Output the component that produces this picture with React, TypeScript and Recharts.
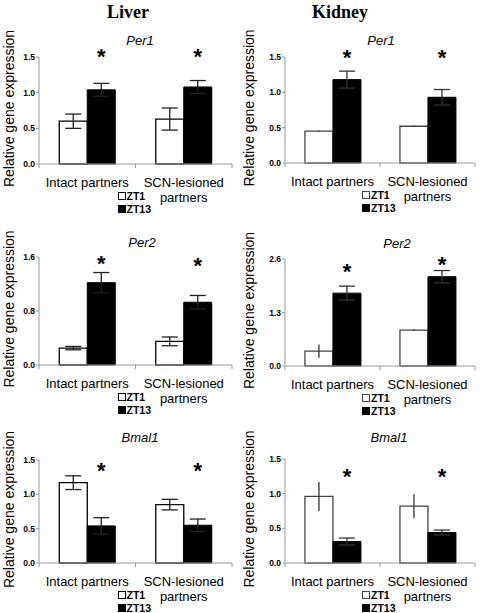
import { BarChart, Bar, XAxis, YAxis, ErrorBar, Legend, Label, Text } from 'recharts';

// categories and series
const CATEGORIES = ['Intact partners', 'SCN-lesioned partners'];
const SERIES = ['ZT1', 'ZT13'];

// Liver, mean and SEM
const LIVER_PER1_ZT1 = [0.6, 0.63];
const LIVER_PER1_ZT1_ERR = [0.1, 0.155];
const LIVER_PER1_ZT13 = [1.04, 1.08];
const LIVER_PER1_ZT13_ERR = [0.09, 0.09];

const LIVER_PER2_ZT1 = [0.25, 0.35];
const LIVER_PER2_ZT1_ERR = [0.025, 0.065];
const LIVER_PER2_ZT13 = [1.22, 0.93];
const LIVER_PER2_ZT13_ERR = [0.15, 0.1];

const LIVER_BMAL1_ZT1 = [1.17, 0.85];
const LIVER_BMAL1_ZT1_ERR = [0.1, 0.077];
const LIVER_BMAL1_ZT13 = [0.54, 0.55];
const LIVER_BMAL1_ZT13_ERR = [0.12, 0.09];

// Kidney
const KIDNEY_PER1_ZT1 = [0.45, 0.52];
const KIDNEY_PER1_ZT1_ERR = [0.01, 0.01];
const KIDNEY_PER1_ZT13 = [1.18, 0.93];
const KIDNEY_PER1_ZT13_ERR = [0.12, 0.11];

const KIDNEY_PER2_ZT1 = [0.36, 0.87];
const KIDNEY_PER2_ZT1_ERR = [0.16, 0.02];
const KIDNEY_PER2_ZT13 = [1.77, 2.17];
const KIDNEY_PER2_ZT13_ERR = [0.17, 0.15];

const KIDNEY_BMAL1_ZT1 = [0.96, 0.82];
const KIDNEY_BMAL1_ZT1_ERR = [0.21, 0.17];
const KIDNEY_BMAL1_ZT13 = [0.31, 0.44];
const KIDNEY_BMAL1_ZT13_ERR = [0.05, 0.035];

// y ticks
const TICKS_15 = [0, 0.5, 1.0, 1.5];
const TICKS_LIVER_PER2 = [0, 0.8, 1.6];
const TICKS_KIDNEY_PER2 = [0, 1.3, 2.6];

const SANS = '"Liberation Sans", Arial, Helvetica, sans-serif';
const SERIF = '"Liberation Serif", "Times New Roman", serif';
const AXIS = '#9a9a9a';

// layout of the six panels (pixel positions, not data)
const COLS = [
  { x: 0, plotLeft: 39, plotRight: 232, bar: '#000', err: '#222', zt1Cap: 8 },
  { x: 240, plotLeft: 285, plotRight: 475, bar: '#444', err: '#333', zt1Cap: 0 },
];

const PANELS = [
  { col: 0, gene: 'Per1', zt1: LIVER_PER1_ZT1, zt1Err: LIVER_PER1_ZT1_ERR, zt13: LIVER_PER1_ZT13, zt13Err: LIVER_PER1_ZT13_ERR, ticks: TICKS_15, top: 57, bottom: 164, titleX: 140, titleY: 40, star: [-5, -5] },
  { col: 1, gene: 'Per1', zt1: KIDNEY_PER1_ZT1, zt1Err: KIDNEY_PER1_ZT1_ERR, zt13: KIDNEY_PER1_ZT13, zt13Err: KIDNEY_PER1_ZT13_ERR, ticks: TICKS_15, top: 57, bottom: 163, titleX: 381, titleY: 40, star: [-4, -4] },
  { col: 0, gene: 'Per2', zt1: LIVER_PER2_ZT1, zt1Err: LIVER_PER2_ZT1_ERR, zt13: LIVER_PER2_ZT13, zt13Err: LIVER_PER2_ZT13_ERR, ticks: TICKS_LIVER_PER2, top: 257, bottom: 365, titleX: 142, titleY: 242, star: [2, 4] },
  { col: 1, gene: 'Per2', zt1: KIDNEY_PER2_ZT1, zt1Err: KIDNEY_PER2_ZT1_ERR, zt13: KIDNEY_PER2_ZT13, zt13Err: KIDNEY_PER2_ZT13_ERR, ticks: TICKS_KIDNEY_PER2, top: 259, bottom: 366, titleX: 397, titleY: 243, star: [8, 1] },
  { col: 0, gene: 'Bmal1', zt1: LIVER_BMAL1_ZT1, zt1Err: LIVER_BMAL1_ZT1_ERR, zt13: LIVER_BMAL1_ZT13, zt13Err: LIVER_BMAL1_ZT13_ERR, ticks: TICKS_15, top: 460, bottom: 563, titleX: 140, titleY: 437, star: [6, 6] },
  { col: 1, gene: 'Bmal1', zt1: KIDNEY_BMAL1_ZT1, zt1Err: KIDNEY_BMAL1_ZT1_ERR, zt13: KIDNEY_BMAL1_ZT13, zt13Err: KIDNEY_BMAL1_ZT13_ERR, ticks: TICKS_15, top: 459, bottom: 563, titleX: 389, titleY: 437, star: [13, 13] },
];

const TOP = 40;
const XAXIS_H = 55;

function LegendBox({ barStroke }: { barStroke: string }) {
  return (
    <div style={{ fontFamily: SANS, fontSize: 10.5, fontWeight: 'bold', lineHeight: '13px' }}>
      {SERIES.map((name, i) => (
        <div key={name} style={{ display: 'flex', alignItems: 'center', height: 13 }}>
          <span
            style={{
              display: 'inline-block',
              width: 6,
              height: 6,
              border: `1px solid ${i === 0 ? barStroke : '#000'}`,
              background: i === 0 ? '#fff' : '#000',
              marginRight: 1,
            }}
          />
          <span>{name}</span>
        </div>
      ))}
    </div>
  );
}

function Panel({ p }: { p: any }) {
  const c = COLS[p.col];
  const H = p.bottom - p.top;
  const band = (c.plotRight - c.plotLeft) / CATEGORIES.length;
  const data = CATEGORIES.map((cat, i) => ({
    cat,
    zt1: p.zt1[i],
    zt1Err: p.zt1Err[i],
    zt13: p.zt13[i],
    zt13Err: p.zt13Err[i],
  }));

  const CatTick = (props: any) => {
    const { x, y, payload, index } = props;
    const marks = index === 0 ? [x - band / 2, x + band / 2] : [x + band / 2];
    return (
      <g>
        {marks.map((mx) => (
          <line key={mx} x1={mx} x2={mx} y1={y} y2={y + 4} stroke={AXIS} />
        ))}
        <Text
          x={x}
          y={y + 13.3}
          width={band + 14}
          textAnchor="middle"
          verticalAnchor="start"
          lineHeight={15.5}
          fill="#000"
          style={{ fontSize: 13, fontFamily: SANS }}
        >
          {payload.value}
        </Text>
      </g>
    );
  };

  const Star = (lp: any) => {
    const vb = lp.viewBox || lp;
    const cx = vb.x + vb.width / 2;
    return (
      <text x={cx} y={TOP + p.star[lp.index] + 12} textAnchor="middle" fontFamily={SANS} fontWeight="bold" fontSize={22} fill="#000">
        *
      </text>
    );
  };

  return (
    <div style={{ position: 'absolute', left: c.x, top: p.top - TOP }}>
      <BarChart
        width={240}
        height={TOP + H + XAXIS_H}
        data={data}
        margin={{ top: TOP, right: c.x + 240 - c.plotRight, left: 0, bottom: 0 }}
        barCategoryGap="21%"
        barGap={0}
      >
        <XAxis
          dataKey="cat"
          height={XAXIS_H}
          interval={0}
          tickLine={false}
          tickSize={0}
          tickMargin={0}
          axisLine={{ stroke: AXIS }}
          tick={<CatTick />}
        />
        <YAxis
          width={c.plotLeft - c.x}
          domain={[0, p.ticks[p.ticks.length - 1]]}
          ticks={p.ticks}
          interval={0}
          tickFormatter={(v: number) => v.toFixed(1)}
          tick={{ fontSize: 8.5, fontWeight: 'bold', fill: '#000', fontFamily: SANS }}
          axisLine={{ stroke: AXIS }}
          tickLine={{ stroke: AXIS }}
          tickSize={3}
          tickMargin={1}
        >
          <Label
            content={() => (
              <text
                x={14}
                y={TOP + H / 2 - 2}
                transform={`rotate(-90, 14, ${TOP + H / 2 - 2})`}
                textAnchor="middle"
                fontFamily={SANS}
                fontSize={14}
                fill="#000"
              >
                Relative gene expression
              </text>
            )}
          />
        </YAxis>
        <Legend
          layout="vertical"
          align="center"
          verticalAlign="middle"
          wrapperStyle={{ left: c.plotLeft - c.x + band - 18, top: TOP + H + 25.5, width: 40, height: 26 }}
          content={() => <LegendBox barStroke={c.bar} />}
        />
        <Bar dataKey="zt1" name={SERIES[0]} fill="#fff" stroke={c.bar} strokeWidth={1.3} isAnimationActive={false}>
          <ErrorBar dataKey="zt1Err" direction="y" width={c.zt1Cap} stroke={c.err} strokeWidth={1.3} isAnimationActive={false} />
        </Bar>
        <Bar dataKey="zt13" name={SERIES[1]} fill="#000" stroke="#000" strokeWidth={1} isAnimationActive={false} label={Star}>
          <ErrorBar dataKey="zt13Err" direction="y" width={8} stroke={c.err} strokeWidth={1.3} isAnimationActive={false} />
        </Bar>
      </BarChart>
      <div
        style={{
          position: 'absolute',
          left: p.titleX - c.x,
          top: p.titleY - (p.top - TOP),
          transform: 'translate(-50%, -50%)',
          fontFamily: SANS,
          fontStyle: 'italic',
          fontSize: 13,
          whiteSpace: 'nowrap',
        }}
      >
        {p.gene}
      </div>
    </div>
  );
}

export default function App() {
  return (
    <div style={{ position: 'absolute', left: 0, top: 0, width: 480, height: 613, background: '#fff', overflow: 'hidden' }}>
      <div style={{ position: 'absolute', left: 128, top: 12, transform: 'translate(-50%, -50%)', fontFamily: SERIF, fontWeight: 'bold', fontSize: 18 }}>
        Liver
      </div>
      <div style={{ position: 'absolute', left: 340, top: 12, transform: 'translate(-50%, -50%)', fontFamily: SERIF, fontWeight: 'bold', fontSize: 18 }}>
        Kidney
      </div>
      {PANELS.map((p, i) => (
        <Panel key={i} p={p} />
      ))}
    </div>
  );
}
